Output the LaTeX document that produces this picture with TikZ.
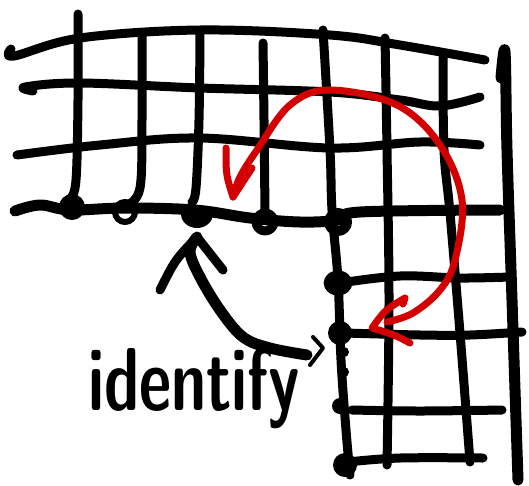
\documentclass[tikz,border=0pt]{standalone}
\definecolor{pen}{HTML}{D20000}
\begin{document}
\begin{tikzpicture}[x=1pt,y=-1pt,line cap=round,line join=round,
  ink/.style={line width=9pt,black},
  bold ink/.style={line width=11pt,black},
  redink/.style={line width=7pt,pen},
  fdot/.style={circle,fill=black,inner sep=0pt,minimum size=#1},
  rdot/.style={circle,draw=black,line width=7pt,inner sep=0pt,minimum size=#1}]
\useasboundingbox (0,0) rectangle (529,485);
% upper horizontal lines
\draw[ink] plot[smooth,tension=0.6] coordinates {(11,49)(14,56)(80,38)(200,30)(330,35)(400,45)(485,60)};
\draw[ink] plot[smooth,tension=0.6] coordinates {(33,91)(25,87)(80,83)(200,88)(330,92)(400,100)(440,106)(480,97)};
\draw[ink] plot[smooth,tension=0.6] coordinates {(17,155)(100,145)(200,138)(330,148)(420,142)(480,145)};
\draw[bold ink] plot[smooth,tension=0.6] coordinates {(15,211)(40,205)(70,210)(125,208)(195,210)(250,218)(300,222)(338,220)(360,212)(500,210)};
% vertical lines
\draw[ink] plot[smooth,tension=0.6] coordinates {(78,14)(78,100)(76,180)(70,200)(66,210)};
\draw[ink] plot[smooth,tension=0.6] coordinates {(142,35)(142,120)(140,188)(127,205)};
\draw[ink] plot[smooth,tension=0.6] coordinates {(200,33)(199,120)(196,188)(192,202)};
\draw[ink] plot[smooth,tension=0.6] coordinates {(263,43)(264,120)(265,212)};
\draw[ink] plot[smooth,tension=0.6] coordinates {(323,30)(330,150)(332,210)(338,280)(341,360)(346,430)(350,475)};
\draw[ink] plot[smooth,tension=0.6] coordinates {(385,38)(387,150)(389,300)(387,465)};
\draw[ink] plot[smooth,tension=0.6] coordinates {(443,57)(444,150)(450,213)(460,333)(470,462)};
\draw[bold ink] plot[smooth,tension=0.6] coordinates {(501,78)(505,52)(507,150)(512,300)(518,480)};
% lower horizontal lines
\draw[ink] plot[smooth,tension=0.6] coordinates {(340,283)(400,276)(460,278)(510,277)};
\draw[ink] plot[smooth,tension=0.6] coordinates {(345,333)(420,335)(470,335)(522,332)};
\draw[ink] plot[smooth,tension=0.6] coordinates {(352,410)(420,411)(502,410)};
\draw[ink] plot[smooth,tension=0.6] coordinates {(348,462)(400,458)(483,458)};
% dots
\node[fdot=26pt] (d1) at (72,207) {};
\node[rdot=20pt,line width=6pt] (d2) at (125,212) {};
\fill (181,214) arc (180:0:16 and 14) -- cycle;
\node[inner sep=0pt,minimum size=1pt] (d3) at (197,206) {};
\node[rdot=18pt,line width=9pt] (d4) at (265,222) {};
\node[rdot=18pt,line width=10pt] (d5) at (338,222) {};
\node[fdot=25pt,xscale=1.15] (d6) at (338,283) {};
\node[fdot=24pt] (d7) at (340,333) {};
\node[fdot=16pt] (d8) at (340,406) {};
\node[fdot=24pt] (d9) at (345,465) {};
\fill (344,352) circle (5);
\fill (344,372) circle (5);
% red double arrow
\coordinate (r1) at (233,197);
\coordinate (r2) at (372,328);
\draw[redink] plot[smooth,tension=0.6] coordinates {(r1)(240,177)(257,150)(290,105)(330,90)(397,105)(440,145)(462,200)(455,260)(440,290)(413,313)(387,322)};
\draw[redink] (226,148) .. controls (226,175) .. (r1) -- (252,168);
\draw[redink] (403,304) -- (405,298) .. controls (385,310) .. (r2) .. controls (395,335) .. (410,343);
% black arrow
\coordinate (b1) at (197,237);
\draw[bold ink] plot[smooth,tension=0.6] coordinates {(307,355)(270,348)(243,337)(220,310)(200,277)(190,252)(b1)};
\draw[ink] (160,290) .. controls (175,260) .. (b1) -- (223,270);
\draw[line width=4pt] (313,337) -- (323,348) -- (310,365);
% label
\node[anchor=base west,inner sep=0pt] (lbl) at (88,410) {\resizebox{212pt}{63pt}{\sffamily\bfseries identify}};
\end{tikzpicture}
\end{document}
